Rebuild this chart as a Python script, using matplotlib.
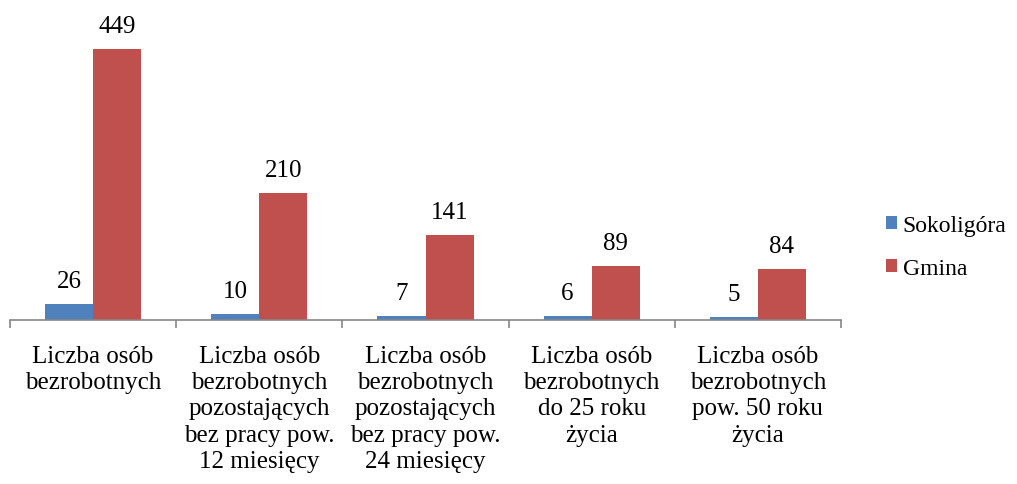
import numpy as np
import matplotlib.pyplot as plt

categories = [
    "Liczba osób\nbezrobotnych",
    "Liczba osób\nbezrobotnych\npozostających\nbez pracy pow.\n12 miesięcy",
    "Liczba osób\nbezrobotnych\npozostających\nbez pracy pow.\n24 miesięcy",
    "Liczba osób\nbezrobotnych\ndo 25 roku\nżycia",
    "Liczba osób\nbezrobotnych\npow. 50 roku\nżycia",
]
series_names = ["Sokoligóra", "Gmina"]
sokoligora = [26, 10, 7, 6, 5]
gmina = [449, 210, 141, 89, 84]

colors = ["#4F81BD", "#C0504D"]
plt.rcParams['font.family'] = ['Liberation Serif', 'DejaVu Serif']
fs = 18

fig = plt.figure(figsize=(10.17, 4.85), dpi=100)
ax = fig.add_axes([10 / 1017, 164 / 485, 831 / 1017, 302 / 485])

x = np.arange(len(categories))
w = 0.29
bars = []
for i, (vals, name) in enumerate(zip([sokoligora, gmina], series_names)):
    b = ax.bar(x + (i - 0.5) * w, vals, w, color=colors[i], label=name)
    bars.append(b)
    for xi, v in zip(x + (i - 0.5) * w, vals):
        ax.text(xi, v + 20, str(v), ha='center', va='bottom', fontsize=fs)

ax.set_xlim(-0.5, len(categories) - 0.5)
ax.set_ylim(0, 500)
for s in ['top', 'right', 'left']:
    ax.spines[s].set_visible(False)
ax.spines['bottom'].set_color('#868686')
ax.spines['bottom'].set_linewidth(1.2)
ax.set_yticks([])
ax.set_xticks(np.arange(len(categories) + 1) - 0.5)
ax.set_xticklabels([])
ax.tick_params(axis='x', length=6, color='#868686', width=1.2)
ax.set_xticks(x, minor=True)
ax.set_xticklabels(categories, minor=True, fontsize=fs, linespacing=1.25)
ax.tick_params(axis='x', which='minor', length=0, pad=18)

fig.legend(handles=bars, labels=series_names, loc='center left',
           bbox_to_anchor=(886 / 1017, 1 - 248 / 485), frameon=False,
           fontsize=17, handlelength=0.45, handleheight=0.45,
           handletextpad=0.25, labelspacing=0.95,
           borderpad=0, borderaxespad=0)

fig.savefig('out.png', dpi=100)
